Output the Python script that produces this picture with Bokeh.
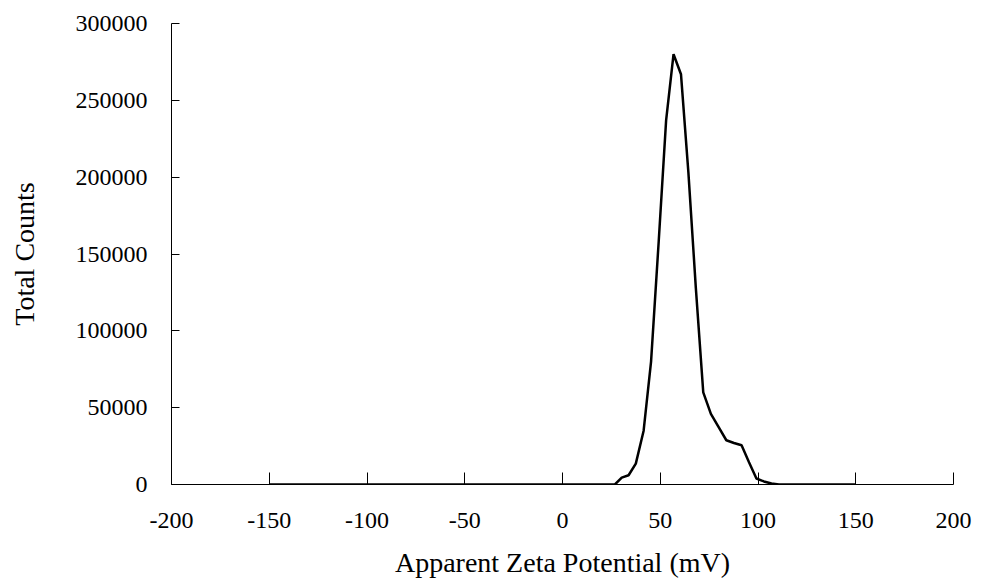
from bokeh.plotting import figure
from bokeh.models import Range1d, FixedTicker
from bokeh.embed import file_html
from bokeh.resources import INLINE

# Data
zeta_mv = [-150, 26.8, 30.3, 33.8, 37.5, 41.5, 45.3, 49.2, 53.0, 56.8, 60.6, 64.4,
           68.2, 72.0, 75.9, 79.8, 83.8, 87.7, 91.6, 95.4, 99.2, 103.0, 106.9, 110.7, 150]
total_counts = [0, 0, 4500, 6000, 13600, 35000, 80000, 158000, 237000, 280000, 267000, 203000,
                128000, 60000, 46000, 37500, 28800, 27000, 25500, 14500, 3900, 2000, 600, 0, 0]

x_ticks = [-200, -150, -100, -50, 0, 50, 100, 150, 200]
y_ticks = [0, 50000, 100000, 150000, 200000, 250000, 300000]
x_title = "Apparent Zeta Potential (mV)"
y_title = "Total Counts"

FONT = "Liberation Serif"

p = figure(width=986, height=582, output_backend="svg", toolbar_location=None,
           x_range=Range1d(-200, 200), y_range=Range1d(0, 300000))
p.min_border_left = 171
p.min_border_right = 33
p.min_border_top = 23
p.min_border_bottom = 98
p.outline_line_color = None
p.xgrid.visible = False
p.ygrid.visible = False
p.background_fill_color = "white"
p.border_fill_color = "white"

p.line(zeta_mv, total_counts, line_color="black", line_width=2.5)

xa = p.xaxis[0]
xa.ticker = FixedTicker(ticks=x_ticks)
xa.major_label_overrides = {t: str(t) for t in x_ticks}
xa.major_tick_in = 12
xa.major_tick_out = 0
xa.minor_tick_in = 0
xa.minor_tick_out = 0
xa.major_label_standoff = 28
xa.axis_label = x_title
xa.axis_label_standoff = 16

ya = p.yaxis[0]
ya.ticker = FixedTicker(ticks=y_ticks)
ya.major_label_overrides = {t: str(t) for t in y_ticks}
ya.major_tick_in = 8
ya.major_tick_out = 0
ya.minor_tick_in = 0
ya.minor_tick_out = 0
ya.major_label_standoff = 24
ya.axis_label = y_title
ya.axis_label_standoff = 33

for ax in (xa, ya):
    ax.axis_line_color = "black"
    ax.axis_line_width = 1
    ax.major_tick_line_color = "black"
    ax.major_label_text_font = FONT
    ax.major_label_text_font_size = "24px"
    ax.major_label_text_color = "black"
    ax.axis_label_text_font = FONT
    ax.axis_label_text_font_size = "28px"
    ax.axis_label_text_font_style = "normal"
    ax.axis_label_text_color = "black"

open("out.html", "w").write(file_html(p, INLINE))
